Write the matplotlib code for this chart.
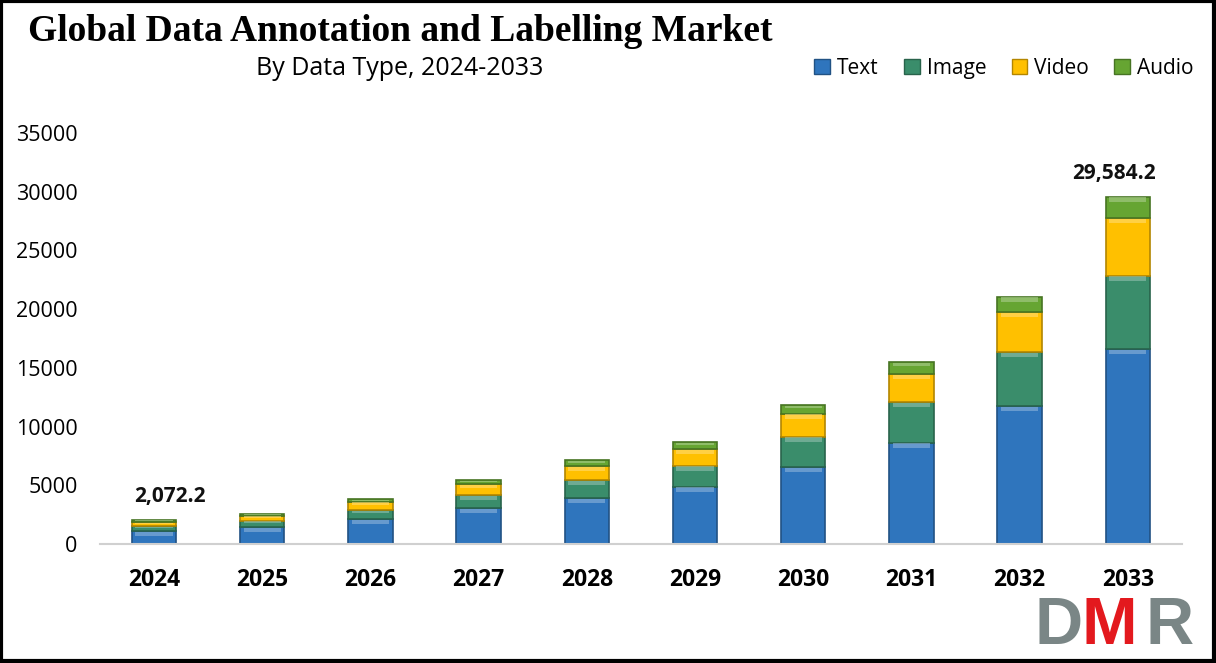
import numpy as np
import matplotlib
matplotlib.use("Agg")
from matplotlib import pyplot as plt
from matplotlib.patches import Patch, Rectangle
from matplotlib import colors as mcolors

# =============================================================================
# data
# =============================================================================
years = ['2024', '2025', '2026', '2027', '2028', '2029', '2030', '2031', '2032', '2033']
text_vals = [1100, 1450, 2100, 3040, 3890, 4880, 6530, 8630, 11750, 16580]
image_vals = [420, 550, 800, 1130, 1560, 1790, 2600, 3440, 4570, 6270]
video_vals = [340, 420, 700, 940, 1190, 1420, 1960, 2410, 3410, 4910]
audio_vals = [212, 160, 200, 310, 490, 570, 720, 1020, 1330, 1824]
series_names = ['Text', 'Image', 'Video', 'Audio']
series_colors = ['#2F75BD', '#3A8D6B', '#FFC000', '#66A532']
callouts = {'2024': '2,072.2', '2033': '29,584.2'}

plt.rcParams['font.family'] = ['Open Sans', 'DejaVu Sans']

fig = plt.figure(figsize=(12.16, 6.63), dpi=100)
ax = fig.add_axes([0.0822, 0.1795, 0.8898, 0.62])

x = np.arange(len(years))
width = 0.41
bottom = np.zeros(len(years))
series = [text_vals, image_vals, video_vals, audio_vals]
for vals, col in zip(series, series_colors):
    vals = np.array(vals, dtype=float)
    dark = np.array(mcolors.to_rgb(col)) * 0.7
    light = np.clip(np.array(mcolors.to_rgb(col)) * 0.55 + 0.45, 0, 1)
    ax.bar(x, vals, width, bottom=bottom, color=col, edgecolor=dark, linewidth=1.2, zorder=2)
    # lighter bevel band on top of each segment
    band = np.minimum(vals * 0.3, 380)
    ax.bar(x, band, width * 0.84, bottom=bottom + vals - band - 50, color=light,
           linewidth=0, alpha=0.6, zorder=3)
    bottom = bottom + vals

totals = bottom
for i, yr in enumerate(years):
    if yr in callouts:
        dx = 0.15 if i == 0 else -0.13
        ax.text(x[i] + dx, totals[i] + 2000, callouts[yr], ha='center', va='center',
                fontsize=15, fontweight='bold', color='#111111')

ax.set_xlim(-0.5, 9.5)
ax.set_ylim(0, 35000)
ax.set_yticks(np.arange(0, 35001, 5000))
ax.set_xticks(x)
ax.set_xticklabels(years, fontsize=16.5, fontweight='bold')
ax.tick_params(axis='y', length=0, labelsize=15.5, pad=16)
ax.tick_params(axis='x', length=0, pad=17)
for s in ['top', 'right', 'left']:
    ax.spines[s].set_visible(False)
ax.spines['bottom'].set_color('#D0D0D0')
ax.spines['bottom'].set_linewidth(1.5)

# titles
fig.text(0.329, 0.953, 'Global Data Annotation and Labelling Market', ha='center', va='center',
         family='Liberation Serif', fontweight='bold', fontsize=27)
fig.text(0.329, 0.897, 'By Data Type, 2024-2033', ha='center', va='center', fontsize=18)

# legend
handles = [Patch(facecolor=c, edgecolor=np.array(mcolors.to_rgb(c)) * 0.7, label=n)
           for n, c in zip(series_names, series_colors)]
fig.legend(handles=handles, loc='center right', bbox_to_anchor=(0.997, 0.897), ncol=4,
           frameon=False, fontsize=15, handlelength=0.75, handleheight=0.75,
           handletextpad=0.35, columnspacing=1.2)

# logo
for letter, xpos, col in [('D', 0.851, '#7A8686'), ('M', 0.889, '#E3191E'), ('R', 0.942, '#7A8686')]:
    fig.text(xpos, 0.028, letter, color=col, fontsize=48, fontweight='bold',
             family='Liberation Sans', ha='left', va='baseline')

# border around the whole picture
fig.patches.append(Rectangle((0.001, 0.003), 0.997, 0.995, transform=fig.transFigure,
                             fill=False, edgecolor='black', linewidth=3, zorder=10))

fig.savefig('out.png', dpi=100)
